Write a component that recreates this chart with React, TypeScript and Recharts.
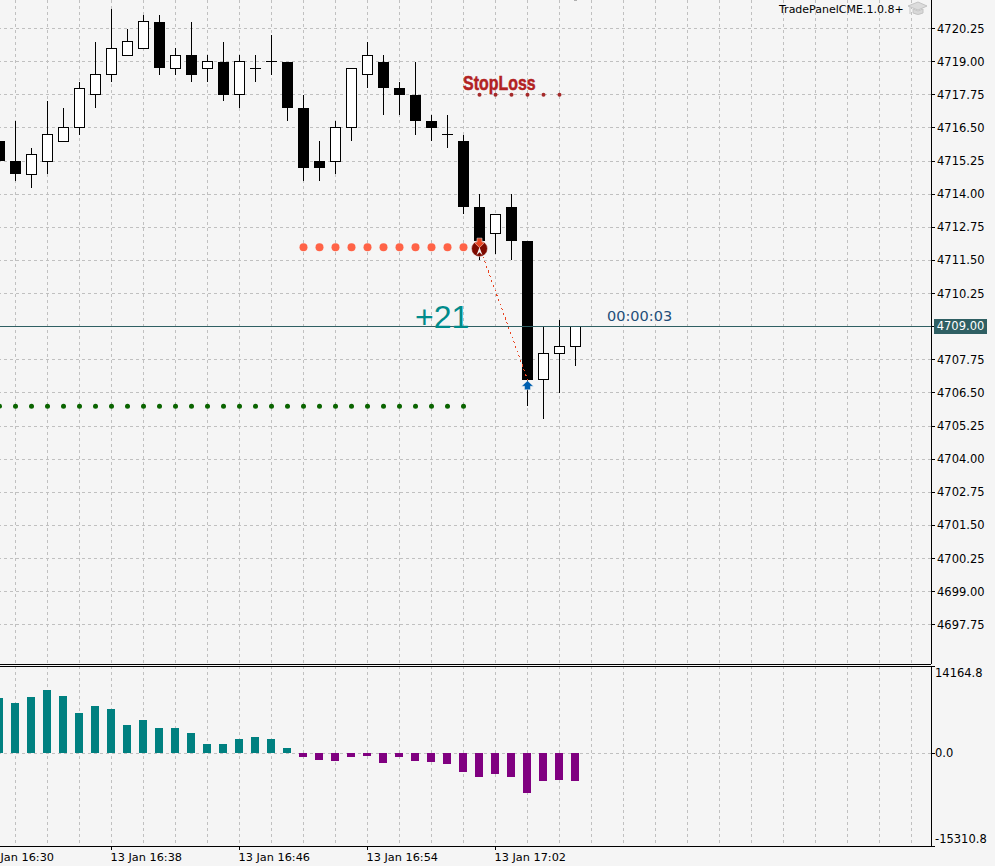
import React from 'react';
import { ComposedChart, Bar, Line, XAxis, YAxis, CartesianGrid, ReferenceLine } from 'recharts';

// candle slots, 1 minute each, slot -1 is 16:30
const opens = [4716, 4715.25, 4714.75, 4715.25, 4716, 4716.5, 4717.75, 4718.5, 4719.25, 4719.5, 4720.5, 4718.75, 4719.25, 4718.75, 4719, 4717.75, 4718.75, 4719, 4719, 4717.25, 4715.25, 4715.25, 4716.5, 4718.5, 4719, 4718, 4717.75, 4716.75, 4716.25, 4716, 4713.5, 4712.5, 4713.5, 4712.25, 4707, 4708, 4708.25];
const closes = [4715.25, 4714.75, 4715.5, 4716.25, 4716.5, 4718, 4718.5, 4719.5, 4719.75, 4720.5, 4718.75, 4719.25, 4718.5, 4719, 4717.75, 4719, 4718.75, 4719, 4717.25, 4715, 4715, 4716.5, 4718.75, 4719.25, 4718, 4717.75, 4716.75, 4716.5, 4716.25, 4713.5, 4712.25, 4713.25, 4712.25, 4707, 4708, 4708.25, 4709];
const highs = [4716.5, 4716.75, 4715.75, 4717.5, 4717.25, 4718.25, 4719.75, 4721, 4720.25, 4720.75, 4720.75, 4719.5, 4720.5, 4719.25, 4719.75, 4719.25, 4719.25, 4720, 4719, 4717.75, 4716, 4716.75, 4718.75, 4719.75, 4719.25, 4718.25, 4719, 4717, 4717, 4716.25, 4714, 4713.25, 4714, 4712.25, 4709, 4709.25, 4709];
const lows = [4714.75, 4714.5, 4714.25, 4714.75, 4716, 4716.25, 4717.25, 4718.25, 4719.25, 4719.5, 4718.5, 4718.5, 4718.25, 4718.25, 4717.5, 4717.25, 4718.25, 4718.5, 4716.75, 4714.5, 4714.5, 4714.75, 4716, 4718, 4717, 4717, 4716.25, 4716, 4715.75, 4713.25, 4711.5, 4711.75, 4711.5, 4706, 4705.5, 4706.5, 4707.5];
const histogram = [9108, 8284, 9273, 10425, 9437, 6637, 7790, 7296, 4661, 5485, 4167, 4167, 3343, 1532, 1532, 2355, 2685, 2355, 873, -609, -1103, -1268, -609, -445, -1598, -609, -1268, -1433, -1762, -3080, -3903, -3409, -3903, -6539, -4562, -4398, -4562];

const priceTicks = [4720.25, 4719, 4717.75, 4716.5, 4715.25, 4714, 4712.75, 4711.5, 4710.25, 4709, 4707.75, 4706.5, 4705.25, 4704, 4702.75, 4701.5, 4700.25, 4699, 4697.75];
const histTicks = [14164.8, 0, -15310.8];
const histTop = 14325;
const gridSlots = [1, 3, 5, 7, 9, 11, 13, 15, 17, 19, 21, 23, 25, 27, 29, 31, 33, 35, 37, 39, 41, 43, 45, 47, 49, 51, 53, 55, 57];
const timeSlots = [-1, 7, 15, 23, 31];
const timeLabels = ['13 Jan 16:30', '13 Jan 16:38', '13 Jan 16:46', '13 Jan 16:54', '13 Jan 17:02'];

const lastPrice = 4709;
const orderLevel = 4712;
const targetLevel = 4706;
const stopLevel = 4717.75;
const entrySlot = 30;
const exitSlot = 33;
const exitPrice = 4707;

const rows = opens.map((open, slot) => ({
  slot,
  open,
  close: closes[slot],
  range: [lows[slot], highs[slot]],
  hist: histogram[slot],
  order: slot >= 19 && slot <= 29 ? orderLevel : null,
  target: slot <= 29 ? targetLevel : null,
  stop: slot >= 30 && slot <= 35 ? stopLevel : null,
  link: slot === entrySlot ? orderLevel : slot === exitSlot ? exitPrice : null,
  entry: slot === entrySlot ? orderLevel : null,
  exit: slot === exitSlot ? exitPrice - 0.25 : null,
}));

const AXIS_FONT = '"DejaVu Sans", sans-serif';
const GRID = '#c0c0c0';
const BG = '#f5f5f5';
const xDomain = [-1.96875, 58.21875];

const Candle = (props: any) => {
  const { x, y, width, height, payload } = props;
  const [low, high] = payload.range;
  const k = height / (high - low);
  const cx = Math.floor(x + width / 2) + 0.5;
  const yOpen = y + (high - payload.open) * k;
  const yClose = y + (high - payload.close) * k;
  const top = Math.min(yOpen, yClose);
  const bottom = Math.max(yOpen, yClose);
  const up = payload.close > payload.open;
  return (
    <g>
      <line x1={cx} x2={cx} y1={y} y2={y + height} stroke="#000" />
      {payload.open === payload.close ? (
        <line x1={cx - 5.5} x2={cx + 5.5} y1={top} y2={top} stroke="#000" />
      ) : up ? (
        <rect x={cx - 5} y={top} width={10} height={bottom - top} fill="#fff" stroke="#000" />
      ) : (
        <rect x={cx - 5.5} y={top} width={11} height={bottom - top} fill="#000" />
      )}
    </g>
  );
};

const HistBar = (p: any) => (
  <rect
    x={p.x - 0.5}
    y={Math.min(p.y, p.y + p.height)}
    width={p.width}
    height={Math.abs(p.height)}
    fill={p.payload.hist >= 0 ? '#008080' : '#800080'}
  />
);

const roundDot = (r: number, fill: string) => (p: any) => {
  if (p.value == null) return <g key={p.index} />;
  return <circle key={p.index} cx={p.cx} cy={p.cy} r={r} fill={fill} style={{ shapeRendering: 'geometricPrecision' }} />;
};

const EntryMark = (p: any) => {
  if (p.value == null) return <g key={p.index} />;
  const { cx, cy } = p;
  return (
    <g key={p.index} style={{ shapeRendering: 'geometricPrecision' }}>
      <circle cx={cx} cy={cy + 1.5} r={8} fill="#7d0a00" stroke="#f5f5f5" strokeWidth={0.5} />
      <path d={`M${cx - 3} ${cy + 8} L${cx} ${cy} L${cx + 3} ${cy + 8} L${cx} ${cy + 5} Z`} fill="#f5f5f5" />
      <path d={`M${cx - 2.5} ${cy - 9} h5 v4 h3 l-5.5 5.5 l-5.5 -5.5 h3 z`} fill="#e8431f" stroke="#f5f5f5" strokeWidth={0.5} />
    </g>
  );
};

const ExitMark = (p: any) => {
  if (p.value == null) return <g key={p.index} />;
  const { cx, cy } = p;
  return (
    <path
      key={p.index}
      d={`M${cx} ${cy - 5.5} l6 5.5 h-3 v3.5 h-6 v-3.5 h-3 z`}
      fill="#0060b0"
      stroke="#f5f5f5"
      strokeWidth={0.5}
      style={{ shapeRendering: 'geometricPrecision' }}
    />
  );
};

const EmptyTick = () => <g />;

const TimeTick = (p: any) => {
  const at = timeSlots.indexOf(p.payload.value);
  return (
    <text x={p.x - 1} y={p.y + 9} fontSize={11.3} fontFamily={AXIS_FONT} fill="#000" textAnchor="start">
      {timeLabels[at]}
    </text>
  );
};

const HistTick = (p: any) => {
  const v = p.payload.value;
  const dy = v > 0 ? 10 : v < 0 ? -3 : 4;
  return (
    <text x={p.x - 2} y={p.y + dy} fontSize={11.5} fontFamily={AXIS_FONT} fill="#000" textAnchor="start">
      {v.toFixed(1)}
    </text>
  );
};

const overlay = (left: number, top: number, extra: React.CSSProperties): React.CSSProperties => ({
  position: 'absolute',
  left,
  top,
  whiteSpace: 'nowrap',
  lineHeight: 1,
  ...extra,
});

export default function App() {
  return (
    <div style={{ position: 'absolute', left: 0, top: 0, width: 995, height: 866, overflow: 'hidden', background: BG, shapeRendering: 'crispEdges' }}>
      <div style={{ position: 'absolute', left: -32, top: 0 }}>
        <ComposedChart width={1027} height={665} data={rows} margin={{ top: 0, right: 0, bottom: 0, left: 0 }}>
          <CartesianGrid stroke={GRID} strokeDasharray="3 3" verticalValues={gridSlots} horizontalValues={priceTicks} />
          <XAxis dataKey="slot" type="number" domain={xDomain} allowDataOverflow ticks={gridSlots} interval={0} height={1} tick={EmptyTick} tickLine={false} axisLine={{ stroke: '#000' }} />
          <YAxis
            orientation="right"
            width={64}
            type="number"
            domain={[4696.2689, 4721.3255]}
            allowDataOverflow
            ticks={priceTicks}
            interval={0}
            tickFormatter={(v: number) => v.toFixed(2)}
            tick={{ fontSize: 11.5, fontFamily: AXIS_FONT, fill: '#000' }}
            tickSize={4}
            tickMargin={2}
            tickLine={{ stroke: '#000' }}
            axisLine={{ stroke: '#000' }}
          />
          <ReferenceLine y={lastPrice} stroke="#2f5f63" />
          <Bar dataKey="range" barSize={11} shape={Candle} isAnimationActive={false} />
          <Line dataKey="order" stroke="none" dot={roundDot(4, '#ff6347')} activeDot={false} isAnimationActive={false} />
          <Line dataKey="target" stroke="none" dot={roundDot(2.5, '#0a6400')} activeDot={false} isAnimationActive={false} />
          <Line dataKey="stop" stroke="none" dot={roundDot(2, '#a52a2a')} activeDot={false} isAnimationActive={false} />
          <Line dataKey="link" connectNulls stroke="#e8431f" strokeDasharray="2 3" dot={false} activeDot={false} isAnimationActive={false} />
          <Line dataKey="entry" stroke="none" dot={EntryMark} activeDot={false} isAnimationActive={false} />
          <Line dataKey="exit" stroke="none" dot={ExitMark} activeDot={false} isAnimationActive={false} />
        </ComposedChart>
      </div>

      <div style={{ position: 'absolute', left: -32, top: 0 }}>
        <ComposedChart width={1027} height={866} data={rows} margin={{ top: 666, right: 0, bottom: 0, left: 0 }}>
          <CartesianGrid stroke={GRID} strokeDasharray="3 3" verticalValues={gridSlots} horizontalValues={[0]} />
          <XAxis
            dataKey="slot"
            type="number"
            domain={xDomain}
            allowDataOverflow
            ticks={timeSlots}
            interval={0}
            height={20}
            tick={TimeTick}
            tickSize={4}
            tickLine={{ stroke: '#000' }}
            axisLine={{ stroke: '#000' }}
          />
          <YAxis
            orientation="right"
            width={64}
            type="number"
            domain={[-15310.8, histTop]}
            allowDataOverflow
            ticks={histTicks}
            interval={0}
            tick={HistTick}
            tickSize={4}
            tickLine={{ stroke: '#000' }}
            axisLine={{ stroke: '#000' }}
          />
          <ReferenceLine y={histTop} stroke="#000" />
          <Bar dataKey="hist" barSize={8} shape={HistBar} isAnimationActive={false} />
        </ComposedChart>
      </div>

      <div style={overlay(463, 72, { fontFamily: '"Liberation Sans", sans-serif', fontWeight: 700, fontSize: 21, color: '#b22222', transform: 'scaleX(0.76)', transformOrigin: 'left top', WebkitTextStroke: '0.5px #b22222' })}>StopLoss</div>
      <div style={overlay(415, 301, { fontFamily: '"Liberation Sans", sans-serif', fontSize: 32, color: '#008b8b' })}>+21</div>
      <div style={overlay(607, 309, { fontFamily: AXIS_FONT, fontSize: 14.5, color: '#1f4e79' })}>00:00:03</div>
      <div style={overlay(779, 4, { fontFamily: AXIS_FONT, fontSize: 11, color: '#000' })}>TradePanelCME.1.0.8+</div>
      <div style={overlay(934, 319, { width: 53, height: 15, background: '#2f5f63', color: '#fff', fontFamily: AXIS_FONT, fontSize: 11.5, lineHeight: '15px', textAlign: 'center' })}>4709.00</div>
      <div style={{ position: 'absolute', left: 574, top: 0, width: 3, height: 1, background: '#b0b0b0' }} />
      <svg width={20} height={16} style={{ position: 'absolute', left: 908, top: 1, shapeRendering: 'geometricPrecision' }}>
        <path d="M0 5 L10 1 L19 5 L10 9 Z" fill="#dcdcdc" stroke="#c4c4c4" />
        <path d="M5 8 V12 Q10 15 15 12 V8 L10 10 Z" fill="#d8d8d8" stroke="#c4c4c4" />
        <path d="M2 6 V13" stroke="#c4c4c4" fill="none" />
      </svg>
    </div>
  );
}
